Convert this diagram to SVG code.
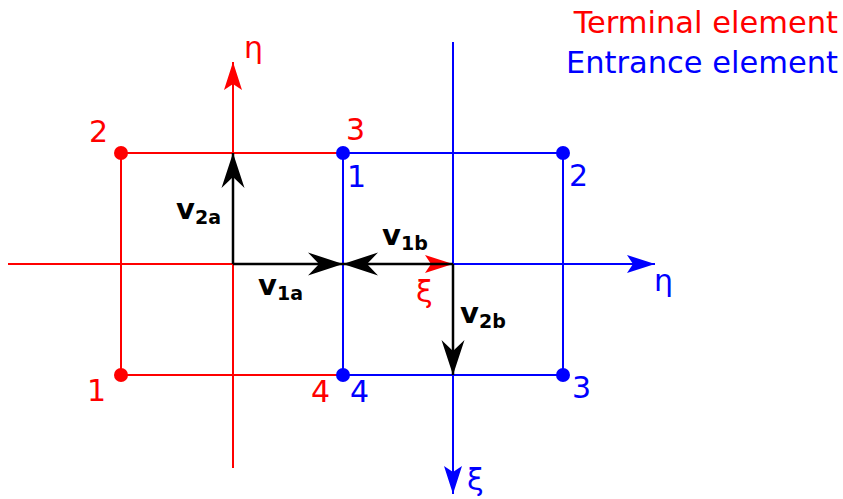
<svg xmlns="http://www.w3.org/2000/svg" width="843" height="499" viewBox="0 0 843 499">
<style>
text{font-family:"DejaVu Sans","Verdana",sans-serif}
.r{fill:#ff0000}
.b{fill:#0000ff}
.lr{stroke:#ff0000;stroke-width:2;fill:none}
.lb{stroke:#0000ff;stroke-width:2;fill:none}
.lk{stroke:#000;stroke-width:2.5;fill:none}
.num{font-size:30px}
.ax{font-size:30px}
.leg{font-size:30.5px}
.v{font-size:29px;font-weight:bold}
.sub{font-size:19px;font-weight:bold}
</style>
<defs>
<marker id="ar" markerUnits="userSpaceOnUse" markerWidth="32" markerHeight="22" viewBox="-30 -11 32 22" refX="0" refY="0" orient="auto"><path d="M0,0 L-28,-9 L-22,0 L-28,9 Z" fill="#ff0000"/></marker>
<marker id="ab" markerUnits="userSpaceOnUse" markerWidth="32" markerHeight="22" viewBox="-30 -11 32 22" refX="0" refY="0" orient="auto"><path d="M0,0 L-28,-9 L-22,0 L-28,9 Z" fill="#0000ff"/></marker>
<marker id="ak" markerUnits="userSpaceOnUse" markerWidth="40" markerHeight="26" viewBox="-37 -13 39 26" refX="0" refY="0" orient="auto"><path d="M0,0 L-35,-11.5 L-24,0 L-35,11.5 Z" fill="#000"/></marker>
</defs>

<g id="legend">
<text class="leg r" x="838" y="33" text-anchor="end">Terminal element</text>
<text class="leg b" x="838" y="73" text-anchor="end">Entrance element</text>
</g>

<g id="connectors">
<path class="lr" d="M121,153 H343 M121,153 V375 H343"/>
<path class="lr" d="M8,264 H453" marker-end="url(#ar)"/>
<path class="lr" d="M233,468 V62" marker-end="url(#ar)"/>
<path class="lb" d="M343,153 H563 V375 H343 V153"/>
<path class="lb" d="M343,264 H655" marker-end="url(#ab)"/>
<path class="lb" d="M453,42 V494" marker-end="url(#ab)"/>
<path class="lk" d="M233,264 V153" marker-end="url(#ak)"/>
<path class="lk" d="M233,264 H343" marker-end="url(#ak)"/>
<path class="lk" d="M453,264 H343" marker-end="url(#ak)"/>
<path class="lk" d="M453,264 V375" marker-end="url(#ak)"/>
</g>

<g id="terminal-nodes">
<circle cx="121" cy="153" r="7" class="r"/>
<circle cx="121" cy="375" r="7" class="r"/>
<text class="num r" x="89" y="142">2</text>
<text class="num r" x="346" y="140">3</text>
<text class="num r" x="87" y="401">1</text>
<text class="num r" x="311" y="402">4</text>
</g>

<g id="entrance-nodes">
<circle cx="343" cy="153" r="7" class="b"/>
<circle cx="563" cy="153" r="7" class="b"/>
<circle cx="343" cy="375" r="7" class="b"/>
<circle cx="563" cy="375" r="7" class="b"/>
<text class="num b" x="347" y="187">1</text>
<text class="num b" x="569" y="186">2</text>
<text class="num b" x="572" y="398">3</text>
<text class="num b" x="350" y="402">4</text>
</g>

<g id="axis-labels">
<text class="ax r" x="244" y="58">η</text>
<text class="ax r" x="416" y="302">ξ</text>
<text class="ax b" x="654" y="291">η</text>
<text class="ax b" x="467" y="490">ξ</text>
</g>

<g id="vector-labels">
<text x="176" y="219"><tspan class="v">v</tspan><tspan class="sub" dy="5">2a</tspan></text>
<text x="382" y="245"><tspan class="v">v</tspan><tspan class="sub" dy="5">1b</tspan></text>
<text x="258" y="295"><tspan class="v">v</tspan><tspan class="sub" dy="5">1a</tspan></text>
<text x="460" y="323"><tspan class="v">v</tspan><tspan class="sub" dy="5">2b</tspan></text>
</g>
</svg>
